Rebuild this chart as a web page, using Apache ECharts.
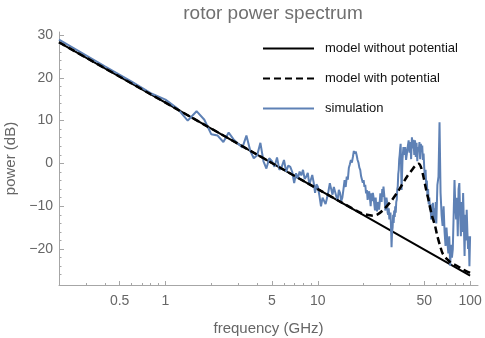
<!DOCTYPE html>
<html><head><meta charset="utf-8">
<script src="https://cdn.jsdelivr.net/npm/echarts@6/dist/echarts.min.js"></script>
<style>html,body{margin:0;padding:0;background:#fff}#c{width:485px;height:338px}</style>
</head><body><div id="c"></div>
<script>
// Model without potential (straight line in log-frequency)
const modelFreq = [0.2, 1, 10, 100];
const modelPower = [28.3, 14.2, -6.0, -26.2];

// Model with potential
const potFreq = [0.2, 1, 5, 10, 15, 19, 21, 23.2, 25, 27, 30, 33.1, 36, 38.5, 41, 43.6, 46, 47.5, 49.4, 51, 53.3, 56, 58.9, 61, 63.6, 66, 70.3, 75, 81.8, 90, 97.5, 100];
const potPower = [28.3, 14.2, 0.1, -6.0, -9.5, -11.5, -12.0, -12.2, -11.8, -10.8, -9.0, -6.9, -4.8, -3.1, -1.8, -0.6, -0.1, -0.8, -3.1, -5.5, -8.5, -12.0, -14.6, -17.0, -19.3, -21.0, -22.3, -23.2, -23.9, -24.8, -25.4, -25.6];

// Simulation
const simFreq = [
 0.2,0.4,0.6,0.8,1.0,1.2,1.4,1.6,1.8,2.0,2.2,2.4,2.6,2.8,3.0,3.2,3.4,3.6,3.8,4.0,4.2,4.4,4.6,4.8,5.0,5.2,5.4,5.6,
 5.8,6.0,6.2,6.4,6.6,6.8,7.0,7.2,7.4,7.6,7.8,8.0,8.2,8.4,8.6,8.8,9.0,9.2,9.4,9.6,9.8,10.0,
 10.25,10.5,10.75,11.0,11.25,11.5,11.75,12.0,12.25,12.5,12.75,13.0,13.25,13.5,13.75,14.0,14.25,14.5,14.75,15.0,
 15.25,15.5,15.75,16.0,16.25,16.5,16.75,17.0,17.25,17.5,17.75,18.0,18.25,18.5,18.75,19.0,19.25,19.5,19.75,20.0,
 20.25,20.5,20.75,21.0,21.25,21.5,21.75,22.0,22.25,22.5,22.75,23.0,23.25,23.5,23.75,24.0,24.25,24.5,24.75,25.0,
 25.25,25.5,25.75,26.0,26.25,26.5,26.75,27.0,27.25,27.5,27.75,28.0,28.25,28.5,28.75,29.0,29.25,29.5,29.75,30.0,
 30.25,30.5,30.75,31.0,31.25,31.5,31.75,32.0,32.25,32.5,32.75,33.0,33.25,33.5,33.75,34.0,34.25,34.5,34.75,35.0,
 35.5,36.0,36.5,37.0,37.5,38.0,38.5,39.0,39.5,40.0,
 40.5,41.0,41.5,42.0,42.5,43.0,43.5,44.0,44.5,45.0,45.5,46.0,46.5,47.0,47.5,48.0,48.5,49.0,49.5,50.0,
 50.5,51.0,51.5,52.0,52.5,53.0,53.5,54.0,54.5,55.0,55.5,56.0,56.5,57.0,57.5,58.0,58.5,59.0,59.5,60.0,
 61,62,63,64,65,66,67,68,69,70,71,72,73,74,75,76,77,78,79,80,
 81,82,83,84,85,86,87,88,89,90,91,92,93,94,95,96,97,98,99,100
];
const simPower = [
 28.9,22.7,19.1,16.4,14.9,12.8,10.0,12.2,10.2,6.8,6.5,5.0,7.2,5.6,4.6,3.7,6.5,3.0,1.2,1.9,4.8,0.5,-1.2,1.2,0.5,-0.8,1.4,-1.5,
 -0.8,0.8,-1.9,-0.5,-0.8,-2.0,-4.6,-2.3,-3.5,-1.9,-2.8,-1.5,-3.6,-3.1,-2.2,-5.0,-3.8,-2.7,-4.5,-6.9,-4.9,-5.4,
 -7.5,-10.0,-8.0,-7.7,-9.5,-8.1,-6.5,-4.6,-6.0,-7.3,-5.5,-5.8,-7.8,-8.5,-6.2,-6.9,-8.8,-8.0,-6.0,-3.9,
 -5.5,-3.1,-3.8,-1.0,-0.2,0.8,0.2,1.5,2.9,2.3,2.8,1.9,0.8,0.2,-1.0,-1.5,-3.0,-2.8,-4.5,-3.9,
 -5.5,-5.0,-7.0,-6.2,-8.5,-7.5,-6.5,-8.1,-10.0,-7.0,-8.8,-6.9,-8.0,-9.5,-11.0,-8.0,-10.5,-11.2,-9.0,-9.0,
 -10.8,-9.2,-7.0,-7.5,-9.0,-6.0,-7.8,-5.4,-7.0,-8.5,-11.0,-10.0,-8.0,-9.0,-11.5,-12.0,-10.5,-13.1,-12.0,-11.5,
 -14.5,-19.6,-16.0,-15.0,-12.0,-13.9,-11.0,-12.5,-10.0,-11.5,-9.0,-8.5,-6.0,-5.4,-2.5,-1.5,1.0,2.0,3.5,4.6,
 -6.2,1.0,3.8,2.0,3.8,0.8,0.8,4.0,5.4,2.5,
 5.0,1.0,6.1,3.5,5.5,2.0,5.4,1.5,4.8,0.5,3.8,2.8,5.0,1.0,4.6,3.0,4.2,0.8,2.3,-1.0,
 -3.1,-1.5,-5.0,-4.0,-7.7,-6.0,-9.5,-8.0,-10.8,-9.5,-13.1,-11.0,-12.0,-9.2,-11.5,-13.9,-10.5,-13.0,-9.0,-14.0,
 -5.0,-3.1,9.6,-6.9,-12.0,-14.6,-10.0,-16.0,-19.3,-15.0,-18.5,-21.0,-17.0,-23.9,-19.0,-22.0,-20.0,-12.0,-3.9,-10.0,
 -13.1,-8.0,-17.0,-6.0,-4.6,-12.0,-17.0,-9.0,-16.0,-6.9,-14.0,-21.6,-12.0,-18.0,-10.8,-16.0,-20.0,-17.0,-24.0,-17.0
];

// Axis ticks
const xMajorTicks = [0.5, 1, 5, 10, 50, 100];
const xMinorTicks = [0.2,0.3,0.4,0.6,0.7,0.8,0.9,2,3,4,6,7,8,9,20,30,40,60,70,80,90];
const yMajorTicks = [-20, -10, 0, 10, 20, 30];
const yMinorTicks = [-26,-24,-22,-18,-16,-14,-12,-8,-6,-4,-2,2,4,6,8,12,14,16,18,22,24,26,28];

const pairs = (xs, ys) => xs.map((x, i) => [x, ys[i]]);
const axisColor = '#a6a6a6';
const textColor = '#666666';
const fontFam = 'Liberation Sans, Arial, sans-serif';
const fmtNum = v => String(+(+v).toPrecision(6)).replace('-', '\u2212');

const chart = echarts.init(document.getElementById('c'), null, {renderer: 'canvas'});
chart.setOption({
  animation: false,
  backgroundColor: '#fff',
  title: {
    text: 'rotor power spectrum',
    left: 268, top: -1, textAlign: 'center',
    textStyle: {color: '#707070', fontSize: 19, fontWeight: 'normal', fontFamily: fontFam}
  },
  legend: {
    orient: 'vertical', left: 257, top: 37,
    itemWidth: 51, itemHeight: 14, itemGap: 17,
    itemStyle: {opacity: 0, borderWidth: 0},
    data: ['model without potential', 'model with potential', 'simulation'],
    textStyle: {color: '#111', fontSize: 13, fontFamily: fontFam, padding: [0, 0, 0, 6]}
  },
  grid: {left: 59, right: 7, top: 32, bottom: 53, containLabel: false, outerBoundsMode: 'none'},
  xAxis: [{
    type: 'log', logBase: 10, min: 0.2, max: 112.7, position: 'bottom',
    name: 'frequency (GHz)', nameLocation: 'middle', nameGap: 36,
    nameTextStyle: {color: textColor, fontSize: 15, fontFamily: fontFam},
    axisLine: {show: true, onZero: false, lineStyle: {color: axisColor, width: 1}},
    axisTick: {show: true, inside: true, length: 4, customValues: xMajorTicks, lineStyle: {color: axisColor}},
    axisLabel: {show: true, customValues: xMajorTicks, formatter: fmtNum, color: textColor, fontSize: 14, margin: 9, fontFamily: fontFam},
    splitLine: {show: false}, minorTick: {show: false}
  }, {
    type: 'log', logBase: 10, min: 0.2, max: 112.7, position: 'bottom', offset: 0,
    axisLine: {show: false, onZero: false},
    axisTick: {show: true, inside: true, length: 2, customValues: xMinorTicks, lineStyle: {color: axisColor}},
    axisLabel: {show: false}, splitLine: {show: false}
  }],
  yAxis: [{
    type: 'value', min: -28.4, max: 30.7, position: 'left',
    name: 'power (dB)', nameLocation: 'middle', nameGap: 39,
    nameTextStyle: {color: textColor, fontSize: 15, fontFamily: fontFam},
    axisLine: {show: true, onZero: false, lineStyle: {color: axisColor, width: 1}},
    axisTick: {show: true, inside: true, length: 5, customValues: yMajorTicks, lineStyle: {color: axisColor}},
    axisLabel: {show: true, customValues: yMajorTicks, formatter: fmtNum, color: textColor, fontSize: 14, margin: 6, fontFamily: fontFam},
    splitLine: {show: false}
  }, {
    type: 'value', min: -28.4, max: 30.7, position: 'left', offset: 0,
    axisLine: {show: false, onZero: false},
    axisTick: {show: true, inside: true, length: 2.5, customValues: yMinorTicks, lineStyle: {color: axisColor}},
    axisLabel: {show: false}, splitLine: {show: false}
  }],
  series: [{
    name: 'model without potential', type: 'line', symbol: 'none', xAxisIndex: 0, yAxisIndex: 0,
    data: pairs(modelFreq, modelPower),
    lineStyle: {color: '#000', width: 2}, itemStyle: {color: '#000'}
  }, {
    name: 'simulation', type: 'line', symbol: 'none', xAxisIndex: 0, yAxisIndex: 0,
    data: pairs(simFreq, simPower),
    lineStyle: {color: '#5E81B5', width: 2}, itemStyle: {color: '#5E81B5'}
  }, {
    name: 'model with potential', type: 'line', symbol: 'none', smooth: 0.3, xAxisIndex: 0, yAxisIndex: 0,
    data: pairs(potFreq, potPower),
    lineStyle: {color: '#000', width: 2.5, type: [7, 4]}, itemStyle: {color: '#000'}
  }]
});
</script>
</body></html>
